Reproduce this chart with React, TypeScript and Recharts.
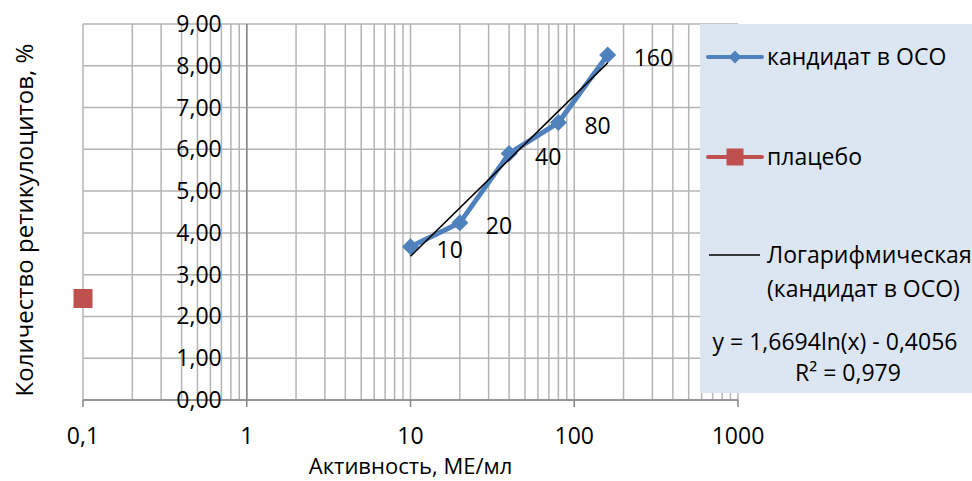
import React from 'react';
import { ComposedChart, Scatter, XAxis, YAxis, CartesianGrid, ReferenceLine } from 'recharts';

// ---- data ----
const candidateX = [10, 20, 40, 80, 160];
const candidateY = [3.67, 4.24, 5.9, 6.64, 8.26];
const placeboX = [0.1];
const placeboY = [2.43];
const trendX = [10, 160];
const trendY = [3.44, 8.07];
const majorTicks = [0.1, 1, 10, 100, 1000];
const majorLabels = ['0,1', '1', '10', '100', '1000'];
const gridX = [
  0.1, 0.2, 0.3, 0.4, 0.5, 0.6, 0.7, 0.8, 0.9,
  1, 2, 3, 4, 5, 6, 7, 8, 9,
  10, 20, 30, 40, 50, 60, 70, 80, 90,
  100, 200, 300, 400, 500, 600, 700, 800, 900,
  1000,
];
const yTicks = [0, 1, 2, 3, 4, 5, 6, 7, 8, 9];
const yLabels = ['0,00', '1,00', '2,00', '3,00', '4,00', '5,00', '6,00', '7,00', '8,00', '9,00'];
const seriesNames = ['кандидат в ОСО', 'плацебо', 'Логарифмическая', '(кандидат в ОСО)'];
const equationText = 'y = 1,6694ln(x) - 0,4056';
const r2Text = 'R² = 0,979';
const xTitle = 'Активность, МЕ/мл';
const yTitle = 'Количество ретикулоцитов, %';

const candidate = candidateX.map((x, i) => ({ x, y: candidateY[i] }));
const placebo = placeboX.map((x, i) => ({ x, y: placeboY[i] }));
const trend = trendX.map((x, i) => ({ x, y: trendY[i] }));

// ---- layout ----
const W = 972;
const H = 481;
const MARGIN = { top: 24, right: 234, bottom: 5, left: 82 };
const Y_AXIS_W = 1;
const X_AXIS_H = 76;
const PLOT_LEFT = MARGIN.left + Y_AXIS_W;
const PLOT_RIGHT = W - MARGIN.right;
const PLOT_BOTTOM = H - MARGIN.bottom - X_AXIS_H;
const X_ONE = PLOT_LEFT + (PLOT_RIGHT - PLOT_LEFT) / 4;

const FONT = "'Open Sans', sans-serif";
const FS = 23;
const BLUE = '#4f81bd';
const RED = '#c0504d';
const GRID = '#b4b4b4';
const AXIS = '#868686';

const XTick = (props: any) => {
  const { x, payload } = props;
  const idx = majorTicks.indexOf(payload.value);
  if (idx < 0) return <g />;
  return (
    <g>
      <line x1={x} x2={x} y1={PLOT_BOTTOM} y2={PLOT_BOTTOM + 7} stroke={AXIS} strokeWidth={1.5} />
      <text x={x} y={PLOT_BOTTOM + 44} textAnchor="middle" fontFamily={FONT} fontSize={FS} fill="#000">
        {majorLabels[idx]}
      </text>
    </g>
  );
};

const YTick = (props: any) => {
  const { y, payload } = props;
  const idx = yTicks.indexOf(payload.value);
  return (
    <text x={X_ONE - 25} y={y + 8} textAnchor="end" fontFamily={FONT} fontSize={FS} fill="#000">
      {yLabels[idx]}
    </text>
  );
};

const Diamond = (props: any) => {
  const { cx, cy, payload } = props;
  const r = 8.5;
  return (
    <g>
      <polygon points={`${cx},${cy - r} ${cx + r},${cy} ${cx},${cy + r} ${cx - r},${cy}`} fill={BLUE} />
      <text x={cx + 26} y={cy + 11} fontFamily={FONT} fontSize={FS} fill="#000">
        {String(payload.x)}
      </text>
    </g>
  );
};

const Square = (props: any) => {
  const { cx, cy } = props;
  const s = 19;
  return <rect x={cx - s / 2} y={cy - s / 2} width={s} height={s} fill={RED} />;
};

const Nothing = () => <g />;

const LegendBox = () => {
  const lw = 272;
  const lh = 369;
  return (
    <div
      style={{
        position: 'absolute',
        left: 700,
        top: 24,
        width: lw,
        height: lh,
        background: '#dce6f2',
      }}
    >
      <svg width={lw} height={lh} style={{ display: 'block' }}>
        <line x1={8} x2={62} y1={33} y2={33} stroke={BLUE} strokeWidth={4} strokeLinecap="round" />
        <polygon points="35,26.5 41.5,33 35,39.5 28.5,33" fill={BLUE} />
        <text x={67} y={41} fontFamily={FONT} fontSize={FS} fill="#000">{seriesNames[0]}</text>

        <line x1={8} x2={62} y1={133} y2={133} stroke={RED} strokeWidth={4} strokeLinecap="round" />
        <rect x={26.5} y={124.5} width={17} height={17} fill={RED} />
        <text x={67} y={141} fontFamily={FONT} fontSize={FS} fill="#000">{seriesNames[1]}</text>

        <line x1={9} x2={60} y1={231} y2={231} stroke="#000" strokeWidth={1.5} />
        <text x={67} y={239} fontFamily={FONT} fontSize={FS} fill="#000">{seriesNames[2]}</text>
        <text x={67} y={273} fontFamily={FONT} fontSize={FS} fill="#000">{seriesNames[3]}</text>

        <text x={135} y={326} textAnchor="middle" fontFamily={FONT} fontSize={FS} fill="#000">{equationText}</text>
        <text x={148} y={357} textAnchor="middle" fontFamily={FONT} fontSize={FS} fill="#000">{r2Text}</text>
      </svg>
    </div>
  );
};

export default function App() {
  return (
    <div style={{ position: 'absolute', left: 0, top: 0, width: W, height: H, background: '#fff' }}>
      <ComposedChart width={W} height={H} margin={MARGIN}>
        <CartesianGrid stroke={GRID} strokeWidth={1.5} horizontal vertical />
        <XAxis
          dataKey="x"
          type="number"
          scale="log"
          domain={[0.1, 1000]}
          ticks={gridX}
          interval={0}
          tick={<XTick />}
          tickLine={false}
          axisLine={{ stroke: AXIS, strokeWidth: 1.5 }}
          height={X_AXIS_H}
          label={{
            content: () => (
              <text
                x={(PLOT_LEFT + PLOT_RIGHT) / 2}
                y={H - 7}
                textAnchor="middle"
                fontFamily={FONT}
                fontSize={22}
                fill="#000"
              >
                {xTitle}
              </text>
            ),
          }}
        />
        <YAxis
          dataKey="y"
          type="number"
          domain={[0, 9]}
          ticks={yTicks}
          interval={0}
          width={Y_AXIS_W}
          axisLine={false}
          tickLine={false}
          tick={<YTick />}
          label={{
            content: () => (
              <text
                transform="translate(33, 220) rotate(-90)"
                textAnchor="middle"
                fontFamily={FONT}
                fontSize={24}
                fill="#000"
              >
                {yTitle}
              </text>
            ),
          }}
        />
        <ReferenceLine x={1} stroke={AXIS} strokeWidth={1.5} />
        <Scatter
          name={seriesNames[0]}
          data={candidate}
          fill={BLUE}
          line={{ stroke: BLUE, strokeWidth: 5 }}
          lineType="joint"
          shape={<Diamond />}
          isAnimationActive={false}
        />
        <Scatter
          name={seriesNames[1]}
          data={placebo}
          fill={RED}
          shape={<Square />}
          isAnimationActive={false}
        />
        <Scatter
          name={seriesNames[2]}
          data={trend}
          fill="#000"
          line={{ stroke: '#000', strokeWidth: 1.5 }}
          lineType="joint"
          shape={<Nothing />}
          isAnimationActive={false}
        />
      </ComposedChart>
      <LegendBox />
    </div>
  );
}
